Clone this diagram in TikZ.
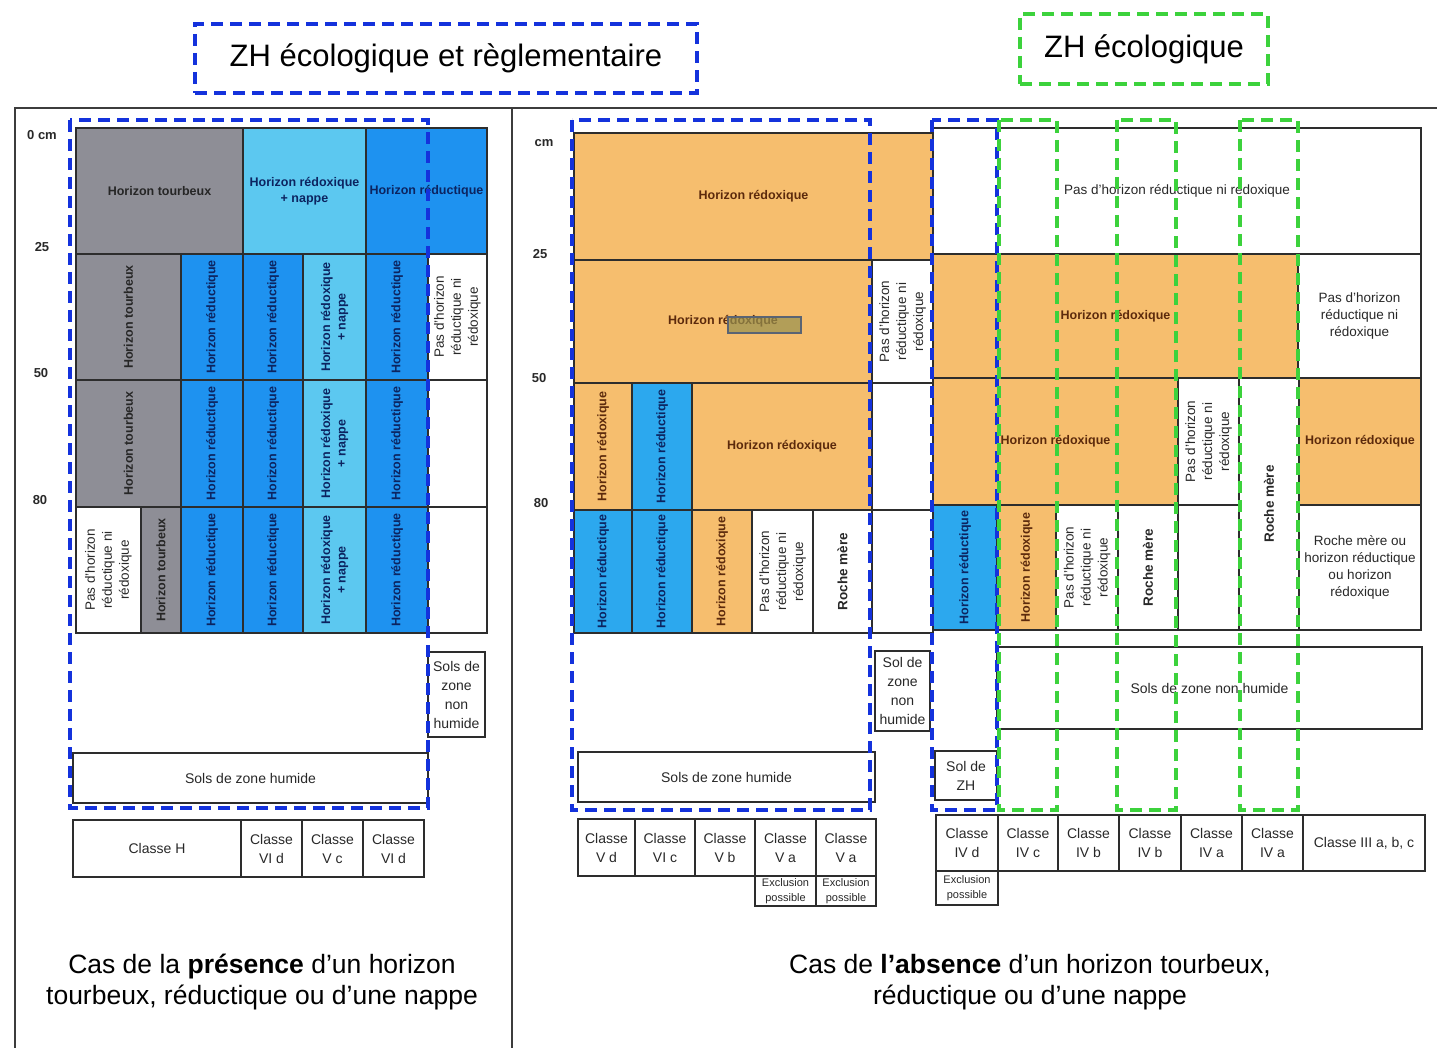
\documentclass[tikz,border=0pt]{standalone}
\usepackage{fontspec}
\setmainfont{Liberation Sans}
\usetikzlibrary{calc}

\definecolor{peatgray}{RGB}{142,142,150}
\definecolor{redoxblue}{RGB}{92,200,240}
\definecolor{reducblue}{RGB}{30,146,240}
\definecolor{reducmid}{RGB}{44,168,238}
\definecolor{redoxorange}{RGB}{246,190,110}
\definecolor{zhblue}{RGB}{20,50,220}
\definecolor{zhgreen}{RGB}{60,210,60}
\definecolor{gridline}{RGB}{45,45,45}
\definecolor{navytext}{RGB}{12,36,96}
\definecolor{browntext}{RGB}{92,42,12}
\definecolor{inktext}{RGB}{40,40,40}

\tikzset{
  cellline/.style={draw=gridline, line width=1.1pt},
  celltext/.style={font=\fontsize{13.5}{17}\selectfont, align=center, inner sep=0pt},
  horizon/.style={font=\bfseries\fontsize{12.5}{15.5}\selectfont},
  peat/.style={fill=peatgray}, peat text/.style={horizon, text=black!85},
  nappe/.style={fill=redoxblue}, nappe text/.style={horizon, text=navytext},
  reduc/.style={fill=reducblue}, reduc text/.style={horizon, text=navytext},
  reducm/.style={fill=reducmid}, reducm text/.style={horizon, text=navytext},
  redox/.style={fill=redoxorange}, redox text/.style={horizon, text=browntext},
  blank/.style={fill=white}, blank text/.style={text=inktext},
  vert/.style={rotate=90},
  rocktext/.style={font=\bfseries\fontsize{13.5}{17}\selectfont},
  classtext/.style={font=\fontsize{14}{19}\selectfont},
  smalltext/.style={font=\fontsize{11}{15}\selectfont},
  zhframe/.style={draw=zhblue, line width=4pt, dash pattern=on 12pt off 7pt},
  ecoframe/.style={draw=zhgreen, line width=4pt, dash pattern=on 12pt off 7pt},
  depthlabel/.style={font=\bfseries\fontsize{13}{15}\selectfont, text=inktext},
  captiontext/.style={font=\fontsize{26.5}{31}\selectfont, align=center},
  panelline/.style={draw={rgb,255:red,60;green,60;blue,60}, line width=1.5pt},
}

% cell: [node options]{style}{name}{corner}{corner}{text}
\newcommand{\soilcell}[6][]{%
  \draw[cellline,#2] #4 rectangle #5;
  \node[celltext,#2 text,#1] (#3) at ($#4!0.5!#5$) {#6};
}

\begin{document}
\begin{tikzpicture}[x=1pt,y=1pt,yscale=-1]
\useasboundingbox (0,0) rectangle (1437,1048);

% panels
\draw[panelline] (15,1048) -- (15,108) -- (1437,108);
\draw[panelline] (512,108) -- (512,1048);

%% ---- presence d'un horizon tourbeux ----
% depth scale
\node[depthlabel] (ldepth0) at (42,135) {0 cm};
\node[depthlabel] (ldepth25) at (42,247) {25};
\node[depthlabel] (ldepth50) at (41,373) {50};
\node[depthlabel] (ldepth80) at (40,500) {80};

% 0-25
\soilcell{peat}{lA1}{(76,128)}{(243,254)}{Horizon tourbeux}
\soilcell{nappe}{lA2}{(243,128)}{(366,254)}{Horizon rédoxique\\+ nappe}
\soilcell{reduc}{lA3}{(366,128)}{(487,254)}{Horizon réductique}
% 25-50
\soilcell[vert]{peat}{lB1}{(76,254)}{(181,380)}{Horizon tourbeux}
\soilcell[vert]{reduc}{lB2}{(181,254)}{(243,380)}{Horizon réductique}
\soilcell[vert]{reduc}{lB3}{(243,254)}{(303,380)}{Horizon réductique}
\soilcell[vert]{nappe}{lB4}{(303,254)}{(366,380)}{Horizon rédoxique\\+ nappe}
\soilcell[vert]{reduc}{lB5}{(366,254)}{(428,380)}{Horizon réductique}
\soilcell[vert]{blank}{lB6}{(428,254)}{(487,380)}{Pas d'horizon\\réductique ni\\rédoxique}
% 50-80
\soilcell[vert]{peat}{lC1}{(76,380)}{(181,507)}{Horizon tourbeux}
\soilcell[vert]{reduc}{lC2}{(181,380)}{(243,507)}{Horizon réductique}
\soilcell[vert]{reduc}{lC3}{(243,380)}{(303,507)}{Horizon réductique}
\soilcell[vert]{nappe}{lC4}{(303,380)}{(366,507)}{Horizon rédoxique\\+ nappe}
\soilcell[vert]{reduc}{lC5}{(366,380)}{(428,507)}{Horizon réductique}
\soilcell{blank}{lC6}{(428,380)}{(487,507)}{}
% 80-
\soilcell[vert]{blank}{lD1}{(76,507)}{(141,633)}{Pas d'horizon\\réductique ni\\rédoxique}
\soilcell[vert]{peat}{lD2}{(141,507)}{(181,633)}{Horizon tourbeux}
\soilcell[vert]{reduc}{lD3}{(181,507)}{(243,633)}{Horizon réductique}
\soilcell[vert]{reduc}{lD4}{(243,507)}{(303,633)}{Horizon réductique}
\soilcell[vert]{nappe}{lD5}{(303,507)}{(366,633)}{Horizon rédoxique\\+ nappe}
\soilcell[vert]{reduc}{lD6}{(366,507)}{(428,633)}{Horizon réductique}
\soilcell{blank}{lD7}{(428,507)}{(487,633)}{}

% soils
\soilcell[classtext]{blank}{lnonhum}{(428,652)}{(485,737)}{Sols de\\zone\\non\\humide}
\soilcell[classtext]{blank}{lhum}{(73,753)}{(428,803)}{Sols de zone humide}

% classes
\soilcell[classtext]{blank}{lcls1}{(73,820)}{(241,877)}{Classe H}
\soilcell[classtext]{blank}{lcls2}{(241,820)}{(302,877)}{Classe\\VI d}
\soilcell[classtext]{blank}{lcls3}{(302,820)}{(363,877)}{Classe\\V c}
\soilcell[classtext]{blank}{lcls4}{(363,820)}{(424,877)}{Classe\\VI d}

%% ---- absence d'un horizon tourbeux ----
\node[depthlabel] (mdepth0) at (544,143) {cm};
\node[depthlabel] (mdepth25) at (540,254) {25};
\node[depthlabel] (mdepth50) at (539,378) {50};
\node[depthlabel] (mdepth80) at (541,503) {80};

\soilcell{redox}{mA1}{(574,133)}{(933,260)}{Horizon rédoxique}
\soilcell{redox}{mB1}{(574,260)}{(872,383)}{Horizon rédoxique}
\soilcell[vert]{blank}{mB2}{(872,260)}{(933,383)}{Pas d'horizon\\réductique ni\\rédoxique}
\soilcell[vert]{redox}{mC1}{(574,383)}{(632,510)}{Horizon rédoxique}
\soilcell[vert]{reducm}{mC2}{(632,383)}{(692,510)}{Horizon réductique}
\soilcell{redox}{mC3}{(692,383)}{(872,510)}{Horizon rédoxique}
\soilcell{blank}{mC4}{(872,383)}{(933,510)}{}
\soilcell[vert]{reducm}{mD1}{(574,510)}{(632,633)}{Horizon réductique}
\soilcell[vert]{reducm}{mD2}{(632,510)}{(692,633)}{Horizon réductique}
\soilcell[vert]{redox}{mD3}{(692,510)}{(752,633)}{Horizon rédoxique}
\soilcell[vert]{blank}{mD4}{(752,510)}{(813,633)}{Pas d'horizon\\réductique ni\\rédoxique}
\soilcell[vert,rocktext]{blank}{mD5}{(813,510)}{(872,633)}{Roche mère}
\soilcell{blank}{mD6}{(872,510)}{(933,633)}{}

% scan mark
\draw[draw={rgb,255:red,90;green,100;blue,115}, fill={rgb,255:red,150;green,145;blue,80}, fill opacity=0.7, line width=1.5pt] (728,317) rectangle (801,333);

\soilcell{blank}{rA1}{(933,128)}{(1421,254)}{Pas d'horizon réductique ni rédoxique}
\soilcell{redox}{rB1}{(933,254)}{(1298,378)}{Horizon rédoxique}
\soilcell{blank}{rB2}{(1298,254)}{(1421,378)}{Pas d'horizon\\réductique ni\\rédoxique}
\soilcell{redox}{rC1}{(933,378)}{(1178,505)}{Horizon rédoxique}
\soilcell[vert]{blank}{rC2}{(1178,378)}{(1239,505)}{Pas d'horizon\\réductique ni\\rédoxique}
\soilcell[vert,rocktext]{blank}{rC3}{(1239,378)}{(1299,630)}{Roche mère}
\soilcell{redox}{rC4}{(1299,378)}{(1421,505)}{Horizon rédoxique}
\soilcell[vert]{reducm}{rD1}{(933,505)}{(997,630)}{Horizon réductique}
\soilcell[vert]{redox}{rD2}{(997,505)}{(1056,630)}{Horizon rédoxique}
\soilcell[vert]{blank}{rD3}{(1056,505)}{(1118,630)}{Pas d'horizon\\réductique ni\\rédoxique}
\soilcell[vert,rocktext]{blank}{rD4}{(1118,505)}{(1178,630)}{Roche mère}
\soilcell{blank}{rD5}{(1178,505)}{(1239,630)}{}
\soilcell{blank}{rD6}{(1299,505)}{(1421,630)}{Roche mère ou\\horizon réductique\\ou horizon\\rédoxique}

% soils
\soilcell[classtext]{blank}{mnonhum}{(875,651)}{(930,731)}{Sol de\\zone\\non\\humide}
\soilcell[classtext]{blank}{mhum}{(578,752)}{(875,802)}{Sols de zone humide}
\soilcell[classtext]{blank}{rnonhum}{(997,647)}{(1422,729)}{Sols de zone non humide}
\soilcell[classtext]{blank}{rhum}{(935,751)}{(997,800)}{Sol de\\ZH}

% classes
\soilcell[classtext]{blank}{mcls1}{(578,819)}{(635,876)}{Classe\\V d}
\soilcell[classtext]{blank}{mcls2}{(635,819)}{(695,876)}{Classe\\VI c}
\soilcell[classtext]{blank}{mcls3}{(695,819)}{(755,876)}{Classe\\V b}
\soilcell[classtext]{blank}{mcls4}{(755,819)}{(816,876)}{Classe\\V a}
\soilcell[classtext]{blank}{mcls5}{(816,819)}{(876,876)}{Classe\\V a}
\soilcell[smalltext]{blank}{mexcl4}{(755,876)}{(816,906)}{Exclusion\\possible}
\soilcell[smalltext]{blank}{mexcl5}{(816,876)}{(876,906)}{Exclusion\\possible}

\soilcell[classtext]{blank}{rcls1}{(936,815)}{(998,871)}{Classe\\IV d}
\soilcell[classtext]{blank}{rcls2}{(998,815)}{(1058,871)}{Classe\\IV c}
\soilcell[classtext]{blank}{rcls3}{(1058,815)}{(1119,871)}{Classe\\IV b}
\soilcell[classtext]{blank}{rcls4}{(1119,815)}{(1181,871)}{Classe\\IV b}
\soilcell[classtext]{blank}{rcls5}{(1181,815)}{(1242,871)}{Classe\\IV a}
\soilcell[classtext]{blank}{rcls6}{(1242,815)}{(1303,871)}{Classe\\IV a}
\soilcell[classtext]{blank}{rcls7}{(1303,815)}{(1425,871)}{Classe III a, b, c}
\soilcell[smalltext]{blank}{rexcl1}{(936,871)}{(998,905)}{Exclusion\\possible}

%% ---- limits ----
\draw[zhframe] (70,120) rectangle (428,808);
\draw[zhframe] (572,120) rectangle (870,810);
\draw[zhframe] (932,120) rectangle (997,810);
\draw[ecoframe] (999,120) rectangle (1057,810);
\draw[ecoframe] (1117,120) rectangle (1176,810);
\draw[ecoframe] (1240,120) rectangle (1298,810);

% titles
\node[zhframe, minimum width=502pt, minimum height=69pt, font=\fontsize{31}{36}\selectfont] (titlereg) at (446,58.5) {ZH écologique et règlementaire};
\node[ecoframe, minimum width=248pt, minimum height=70pt, font=\fontsize{31}{36}\selectfont] (titleeco) at (1144,49) {ZH écologique};

% captions
\node[captiontext] (caplpres) at (262,982) {Cas de la \textbf{présence} d'un horizon\\tourbeux, réductique ou d'une nappe};
\node[captiontext] (caprabs) at (1030,982) {Cas de \textbf{l'absence} d'un horizon tourbeux,\\réductique ou d'une nappe};
\end{tikzpicture}
\end{document}
